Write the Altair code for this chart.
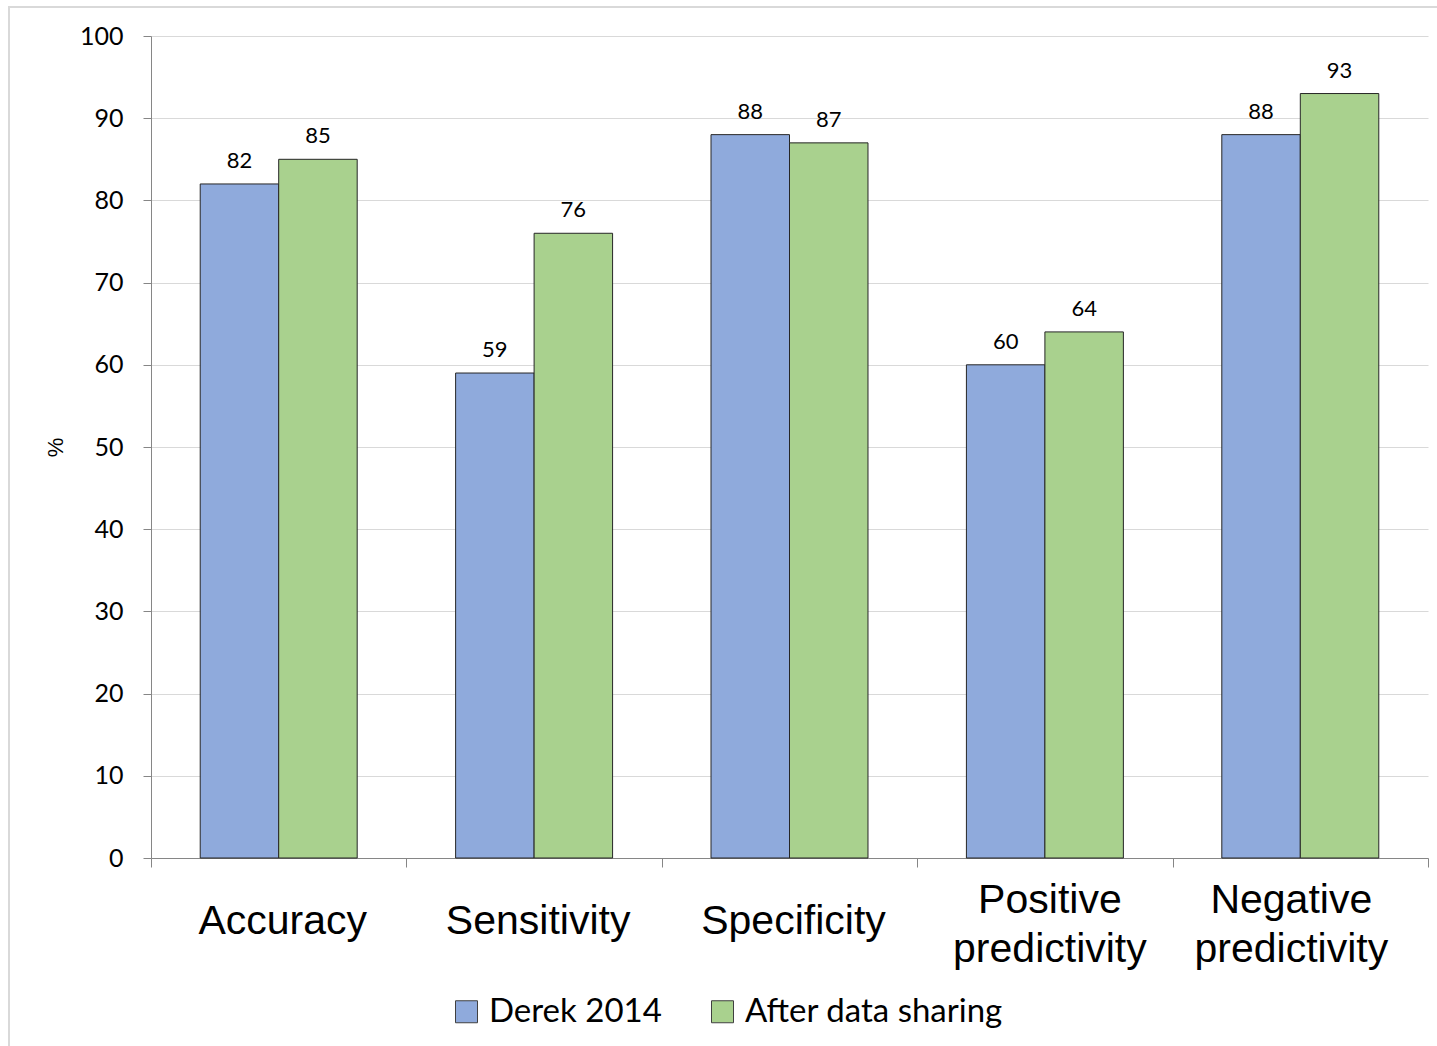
import altair as alt
import pandas as pd

# Diagnostic performance of the model before and after data sharing (%)
categories = ["Accuracy", "Sensitivity", "Specificity",
              "Positive\npredictivity", "Negative\npredictivity"]
series = ["Derek 2014", "After data sharing"]
derek_2014 = [82, 59, 88, 60, 88]
after_sharing = [85, 76, 87, 64, 93]
colors = ["#8FAADC", "#A9D18E"]

rows = []
for cat, a, b in zip(categories, derek_2014, after_sharing):
    rows.append({"metric": cat, "series": series[0], "value": a})
    rows.append({"metric": cat, "series": series[1], "value": b})
df = pd.DataFrame(rows)
cat_df = pd.DataFrame({"metric": categories, "idx": list(range(len(categories)))})

x_enc = alt.X(
    "metric:N",
    sort=categories,
    scale=alt.Scale(paddingInner=0, paddingOuter=0),
    axis=alt.Axis(
        title=None,
        labels=False,
        tickBand="extent",
        tickSize=9,
        tickColor="#868686",
        domainColor="#868686",
        grid=False,
    ),
)
xoff_enc = alt.XOffset(
    "series:N",
    sort=series,
    scale=alt.Scale(paddingInner=0, paddingOuter=0.627),
)
y_enc = alt.Y(
    "value:Q",
    scale=alt.Scale(domain=[0, 100], nice=False),
    axis=alt.Axis(
        title="%",
        titleFont="Liberation Sans",
        titleFontSize=22,
        titleFontWeight="normal",
        titleColor="#000000",
        titleAngle=270,
        titleX=-96,
        titleY=411,
        titleAlign="center",
        titleBaseline="middle",
        values=list(range(0, 101, 10)),
        labelFont="Lato",
        labelFontSize=25,
        labelColor="#000000",
        labelPadding=20,
        tickSize=8,
        tickColor="#868686",
        domainColor="#868686",
        gridColor="#D9D9D9",
        gridWidth=1,
    ),
)

bars = alt.Chart(df).mark_bar(stroke="#262626", strokeWidth=1).encode(
    x=x_enc,
    xOffset=xoff_enc,
    y=y_enc,
    color=alt.Color(
        "series:N",
        sort=series,
        scale=alt.Scale(domain=series, range=colors),
        legend=alt.Legend(
            title=None,
            orient="none",
            direction="horizontal",
            legendX=299,
            legendY=959,
            symbolType="square",
            symbolSize=484,
            symbolStrokeColor="#404040",
            symbolStrokeWidth=1,
            symbolOpacity=1,
            labelFont="Lato",
            labelFontSize=33,
            labelColor="#000000",
            labelOffset=6,
            columnPadding=44,
            labelLimit=500,
        ),
    ),
)

labels = alt.Chart(df).mark_text(
    baseline="alphabetic", dy=-16, font="Lato", fontSize=22, color="#000000"
).encode(
    x=alt.X("metric:N", sort=categories),
    xOffset=alt.XOffset("series:N", sort=series),
    y=alt.Y("value:Q"),
    text=alt.Text("value:Q"),
)

# category names under the axis: one-line names sit on a middle line,
# two-line names start higher so both share the same centre;
# the last name is pulled in from the right edge
cat_style = dict(font="Liberation Sans", fontSize=41, color="#000000",
                 baseline="alphabetic", align="center", lineBreak="\n",
                 lineHeight=49)
last = len(categories) - 1


def name_layer(test, y_px, dx):
    return alt.Chart(cat_df).transform_filter(test).mark_text(
        dx=dx, **cat_style
    ).encode(
        x=alt.X("metric:N", sort=categories),
        y=alt.value(y_px),
        text="metric:N",
    )


single_names = name_layer("indexof(datum.metric, '\\n') < 0", 898, 4)
double_names = name_layer(
    f"indexof(datum.metric, '\\n') >= 0 && datum.idx < {last}", 877, 5)
last_name = name_layer(f"datum.idx == {last}", 877, -9)

# outer frame around the whole figure
frame = alt.Chart(pd.DataFrame({"k": [0]})).mark_rect(
    fill="transparent", stroke="#D9D9D9", strokeWidth=2
).encode(
    x=alt.value(-142), x2=alt.value(1400),
    y=alt.value(-29), y2=alt.value(1100),
)

chart = alt.layer(frame, bars, labels, single_names, double_names, last_name).properties(
    width=1277,
    height=822,
    padding={"left": 151, "top": 36, "right": 9, "bottom": 188},
    autosize="none",
    background="#FFFFFF",
).configure_view(stroke=None)

chart.save("out.html", embed_options={"renderer": "svg", "actions": False})
